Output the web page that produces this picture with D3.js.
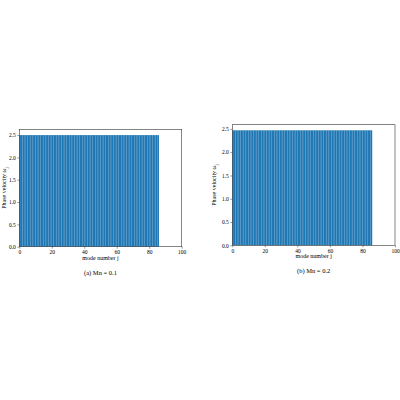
<!DOCTYPE html><html><head><meta charset="utf-8"><script src="https://cdn.jsdelivr.net/npm/d3@7"></script>
<style>body{margin:0;background:#fff}text{font-family:"Liberation Serif","DejaVu Serif",serif}</style></head><body>
<svg id="c" width="400" height="400"></svg>
<script>
const modes = d3.range(0, 86);
const valuesA = modes.map(() => 2.5);
const valuesB = modes.map(() => 2.47);
const xTicks = [0,20,40,60,80,100];
const yTicks = [0,0.5,1,1.5,2,2.5];
const panels = [
 {vals:valuesA, cap:"(a) Mn = 0.1", L:19.3, R:181.7, T:129.3, B:246.7, ymax:2.63, yl:"Phase velocity ω", yx:6},
 {vals:valuesB, cap:"(b) Mn = 0.2", L:232.3, R:395, T:124.7, B:245.3, ymax:2.59, yl:"Phase velocity ω", yx:216}
];
const svg = d3.select("#c");
panels.forEach(p=>{
  const x = d3.scaleLinear().domain([0,100]).range([p.L,p.R]);
  const y = d3.scaleLinear().domain([0,p.ymax]).range([p.B,p.T]);
  const g = svg.append("g");
  g.selectAll("rect").data(p.vals).join("rect")
   .attr("x",(d,i)=>x(modes[i])).attr("width",x(1)-x(0))
   .attr("y",d=>y(d)).attr("height",d=>y(0)-y(d)).attr("fill","#1f77b4");
  g.append("rect").attr("x",p.L).attr("y",p.T).attr("width",p.R-p.L).attr("height",p.B-p.T)
   .attr("fill","none").attr("stroke","#333").attr("stroke-width",0.6);
  const xa = g.append("g").attr("transform",`translate(0,${p.B})`).call(d3.axisBottom(x).tickValues(xTicks).tickSize(2).tickPadding(1.5));
  const ya = g.append("g").attr("transform",`translate(${p.L},0)`).call(d3.axisLeft(y).tickValues(yTicks).tickSize(2).tickPadding(1.5).tickFormat(d3.format(".1f")));
  [xa,ya].forEach(a=>{a.select(".domain").remove();a.selectAll("text").attr("font-size",5.5).attr("fill","#000");a.selectAll("line").attr("stroke","#333").attr("stroke-width",0.5);});
  g.append("text").attr("x",(p.L+p.R)/2).attr("y",p.B+13).attr("text-anchor","middle").attr("font-size",6).text("mode number j");
  const t = g.append("text").attr("transform",`translate(${p.yx},${(p.T+p.B)/2}) rotate(-90)`).attr("text-anchor","middle").attr("font-size",6);
  t.append("tspan").text(p.yl); t.append("tspan").attr("font-size",4.5).attr("dy",1.5).text("j");
  g.append("text").attr("x",(p.L+p.R)/2).attr("y",p.B+28).attr("text-anchor","middle").attr("font-size",6.5).text(p.cap);
});
</script></body></html>
